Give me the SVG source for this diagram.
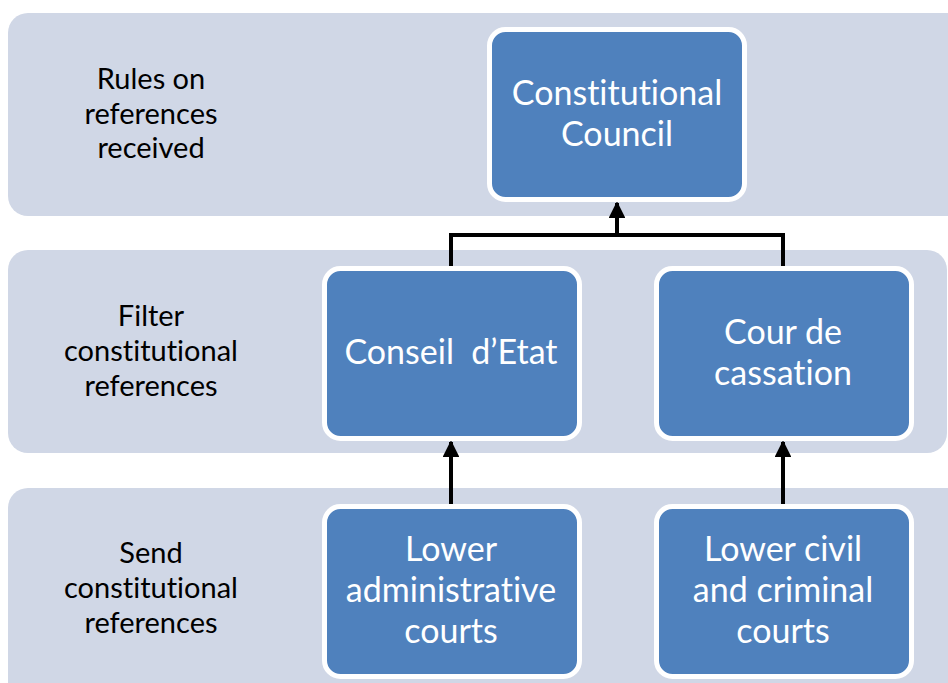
<svg xmlns="http://www.w3.org/2000/svg" width="948" height="683" viewBox="0 0 948 683">
<defs>
<marker id="ah" viewBox="0 0 10 10" refX="9" refY="5" markerWidth="4.2" markerHeight="4.2" markerUnits="strokeWidth" orient="auto">
<path d="M0,0 L10,5 L0,10 z" fill="#000"/>
</marker>
<style>
.band{fill:#D0D7E6;}
.box{fill:#4F81BD;stroke:#fff;stroke-width:5;}
.lbl{font-family:Lato,"Liberation Sans",sans-serif;font-size:29px;fill:#000;text-anchor:middle;font-variant-ligatures:none;}
.txt{font-family:Lato,"Liberation Sans",sans-serif;font-size:34px;fill:#fff;text-anchor:middle;font-variant-ligatures:none;}
.con{fill:none;stroke:#000;stroke-width:4;}
</style>
</defs>
<rect width="948" height="683" fill="#fff"/>
<g id="bands">
<rect class="band" x="8" y="13" width="960" height="203" rx="20"/>
<rect class="band" x="8" y="250" width="939" height="203" rx="20"/>
<rect class="band" x="8" y="488" width="960" height="230" rx="20"/>
</g>
<g id="band-labels">
<text class="lbl" x="151" y="89">Rules on</text>
<text class="lbl" x="151" y="124">references</text>
<text class="lbl" x="151" y="158">received</text>
<text class="lbl" x="151" y="326">Filter</text>
<text class="lbl" x="151" y="361">constitutional</text>
<text class="lbl" x="151" y="396">references</text>
<text class="lbl" x="151" y="563">Send</text>
<text class="lbl" x="151" y="598">constitutional</text>
<text class="lbl" x="151" y="633">references</text>
</g>
<g id="connectors">
<polyline class="con" points="451,266 451,235 783,235 783,266"/>
<line class="con" x1="617" y1="235" x2="617" y2="203" marker-end="url(#ah)"/>
<line class="con" x1="451" y1="504" x2="451" y2="442" marker-end="url(#ah)"/>
<line class="con" x1="783" y1="504" x2="783" y2="442" marker-end="url(#ah)"/>
</g>
<g id="constitutional-council">
<rect class="box" x="489.5" y="29.5" width="255" height="170" rx="16"/>
<text class="txt" x="617" y="105">Constitutional</text>
<text class="txt" x="617" y="146">Council</text>
</g>
<g id="conseil-etat">
<rect class="box" x="324.5" y="268.5" width="255" height="170" rx="16"/>
<text class="txt" x="451" y="364" xml:space="preserve">Conseil  d’Etat</text>
</g>
<g id="cour-de-cassation">
<rect class="box" x="656.5" y="268.5" width="255" height="170" rx="16"/>
<text class="txt" x="783" y="344">Cour de</text>
<text class="txt" x="783" y="385">cassation</text>
</g>
<g id="lower-administrative">
<rect class="box" x="324.5" y="506.5" width="255" height="170" rx="16"/>
<text class="txt" x="451" y="561">Lower</text>
<text class="txt" x="451" y="602">administrative</text>
<text class="txt" x="451" y="643">courts</text>
</g>
<g id="lower-civil">
<rect class="box" x="656.5" y="506.5" width="255" height="170" rx="16"/>
<text class="txt" x="783" y="561">Lower civil</text>
<text class="txt" x="783" y="602">and criminal</text>
<text class="txt" x="783" y="643">courts</text>
</g>
</svg>
